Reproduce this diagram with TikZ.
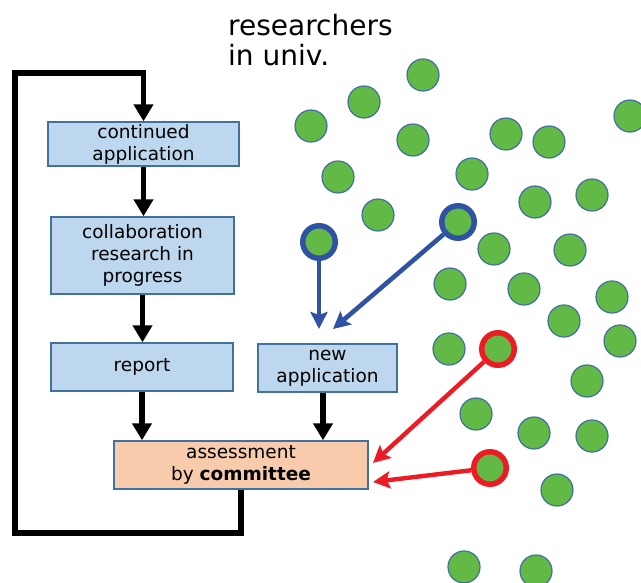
\documentclass[tikz,border=0pt]{standalone}
\usepackage{fontspec}
\setmainfont{DejaVu Sans}
\usetikzlibrary{arrows.meta}
\definecolor{boxblue}{RGB}{189,215,238}
\definecolor{boxedge}{RGB}{65,113,156}
\definecolor{boxorange}{RGB}{248,203,173}
\definecolor{dotgreen}{RGB}{98,185,70}
\definecolor{dotedge}{RGB}{65,113,156}
\definecolor{arrowblue}{RGB}{47,82,163}
\definecolor{arrowred}{RGB}{237,28,36}
\tikzset{
  box/.style={draw=boxedge, line width=1.4pt, fill=boxblue, inner sep=0pt, align=center,
    font=\fontsize{18.5}{22}\selectfont},
  dot/.style={circle, draw=dotedge, line width=1.2pt, fill=dotgreen, minimum size=32pt, inner sep=0pt},
  bluedot/.style={dot, draw=arrowblue, line width=5.5pt, minimum size=32.5pt},
  reddot/.style={dot, draw=arrowred, line width=5.5pt, minimum size=32.5pt},
  flow/.style={line width=5.2pt, line join=miter, -{Triangle[width=19pt,length=17pt]}},
  bluearrow/.style={draw=arrowblue, line width=4.6pt, -{Stealth[width=17pt,length=17pt,inset=3pt]}},
  redarrow/.style={draw=arrowred, line width=4.4pt, -{Stealth[width=17pt,length=17pt,inset=3pt]}}
}
\begin{document}
\begin{tikzpicture}[x=1pt,y=-1pt]
\useasboundingbox (0,0) rectangle (641,583);

% title
\node[anchor=north west, inner sep=0pt, align=left, font=\fontsize{28}{30}\selectfont] (title) at (228,14) {researchers\\in univ.};

% boxes
\node[box, minimum width=191pt, minimum height=44pt] (cont) at (143.5,144) {continued\\application};
\node[box, minimum width=183pt, minimum height=77pt] (collab) at (142.5,255.5) {collaboration\\research in\\progress};
\node[box, minimum width=182pt, minimum height=48pt] (report) at (142,367) {report};
\node[box, minimum width=139pt, minimum height=48pt] (newapp) at (327.5,368) {new\\application};
\node[box, fill=boxorange, minimum width=254pt, minimum height=48pt] (assess) at (241,465) {assessment\\by \textbf{committee}};

% flow arrows
\draw[flow] (cont.south) -- (cont.south |- collab.north);
\draw[flow] (collab.south) -- (collab.south |- report.north);
\draw[flow] (report.south) -- (report.south |- assess.north);
\draw[flow] ([xshift=-4.5pt]newapp.south) -- ([xshift=-4.5pt]newapp.south |- assess.north);

% feedback loop
\coordinate (l1) at (241,533);
\coordinate (l2) at (15,533);
\coordinate (l3) at (15,73);
\coordinate (l4) at (143.5,73);
\draw[flow] (assess.south) -- (l1) -- (l2) -- (l3) -- (l4) -- (cont.north);

% researchers (dots)
\node[dot] (c1) at (423,75) {};
\node[dot] (c2) at (364,102) {};
\node[dot] (c3) at (311,126) {};
\node[dot] (c4) at (413,140) {};
\node[dot] (c5) at (506,134) {};
\node[dot] (c6) at (549,142) {};
\node[dot] (c7) at (630,116) {};
\node[dot] (c8) at (338,177) {};
\node[dot] (c9) at (472,174) {};
\node[dot] (c10) at (535,202) {};
\node[dot] (c11) at (592,195) {};
\node[dot] (c12) at (378,215) {};
\node[bluedot] (c13) at (458,222) {};
\node[bluedot] (c14) at (319,242) {};
\node[dot] (c15) at (494,249) {};
\node[dot] (c16) at (570,250) {};
\node[dot] (c17) at (450,284) {};
\node[dot] (c18) at (524,289) {};
\node[dot] (c19) at (612,297) {};
\node[dot] (c20) at (564,321) {};
\node[dot] (c21) at (620,341) {};
\node[dot] (c22) at (449,349) {};
\node[reddot] (c23) at (498,349) {};
\node[dot] (c24) at (587,381) {};
\node[dot] (c25) at (476,414) {};
\node[dot] (c26) at (534,433) {};
\node[dot] (c27) at (592,436) {};
\node[reddot] (c28) at (490,468) {};
\node[dot] (c29) at (557,490) {};
\node[dot] (c30) at (464,567) {};
\node[dot] (c31) at (536,571) {};

% selection arrows
\coordinate (b1) at (319,329);
\coordinate (b2) at (333,329);
\coordinate (r1) at (373,463);
\coordinate (r2) at (373,482);
\draw[bluearrow] (c14) -- (b1);
\draw[bluearrow] (c13) -- (b2);
\draw[redarrow] (c23) -- (r1);
\draw[redarrow] (c28) -- (r2);
\end{tikzpicture}
\end{document}
